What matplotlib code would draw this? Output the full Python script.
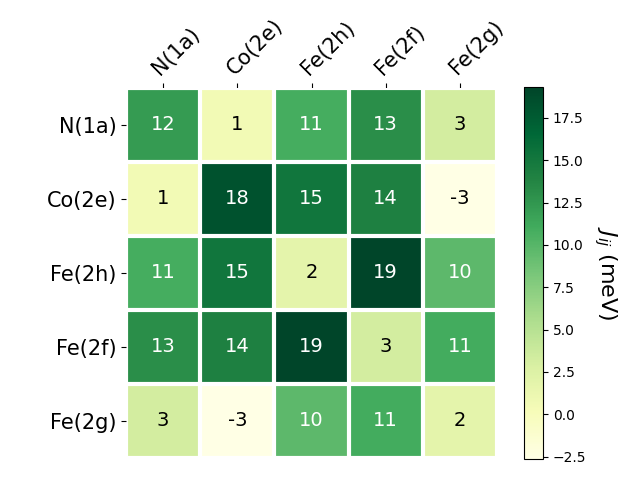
import numpy as np
import matplotlib
matplotlib.use("Agg")
import matplotlib.pyplot as plt

labels = ["N(1a)", "Co(2e)", "Fe(2h)", "Fe(2f)", "Fe(2g)"]
row_n1a = [12.2, 0.6, 10.9, 13.1, 3.2]
row_co2e = [0.6, 18.3, 15.2, 14.1, -2.64]
row_fe2h = [10.9, 15.2, 1.9, 19.33, 9.7]
row_fe2f = [13.1, 14.1, 19.33, 3.2, 11.0]
row_fe2g = [3.2, -2.64, 9.7, 11.0, 1.9]
data = np.array([row_n1a, row_co2e, row_fe2h, row_fe2f, row_fe2g])

fig = plt.figure(figsize=(6.4, 4.8), dpi=100)
ax = fig.add_axes([126/640, 22/480, 371/640, 370/480])
cax = fig.add_axes([524/640, 21/480, 19/640, 372/480])

im = ax.imshow(data, cmap="YlGn", aspect="auto")
cbar = fig.colorbar(im, cax=cax)
cbar.ax.set_ylabel("$J_{ij}$ (meV)", rotation=-90, va="bottom", fontsize=16)

ax.set_xticks(np.arange(len(labels)))
ax.set_yticks(np.arange(len(labels)))
ax.set_xticklabels(labels, fontsize=15)
ax.set_yticklabels(labels, fontsize=15)
ax.tick_params(top=True, bottom=False, labeltop=True, labelbottom=False)
plt.setp(ax.get_xticklabels(), rotation=45, ha="left", rotation_mode="anchor")

for s in ax.spines.values():
    s.set_visible(False)
ax.set_xticks(np.arange(data.shape[1] + 1) - .5, minor=True)
ax.set_yticks(np.arange(data.shape[0] + 1) - .5, minor=True)
ax.grid(which="minor", color="w", linestyle="-", linewidth=3)
ax.tick_params(which="minor", bottom=False, left=False, top=False)

threshold = im.norm(data.max()) / 2.0
for i in range(data.shape[0]):
    for j in range(data.shape[1]):
        c = "white" if im.norm(data[i, j]) > threshold else "black"
        ax.text(j, i, "{:.0f}".format(data[i, j]), ha="center", va="center",
                color=c, fontsize=14)

fig.savefig("out.png", dpi=100)
